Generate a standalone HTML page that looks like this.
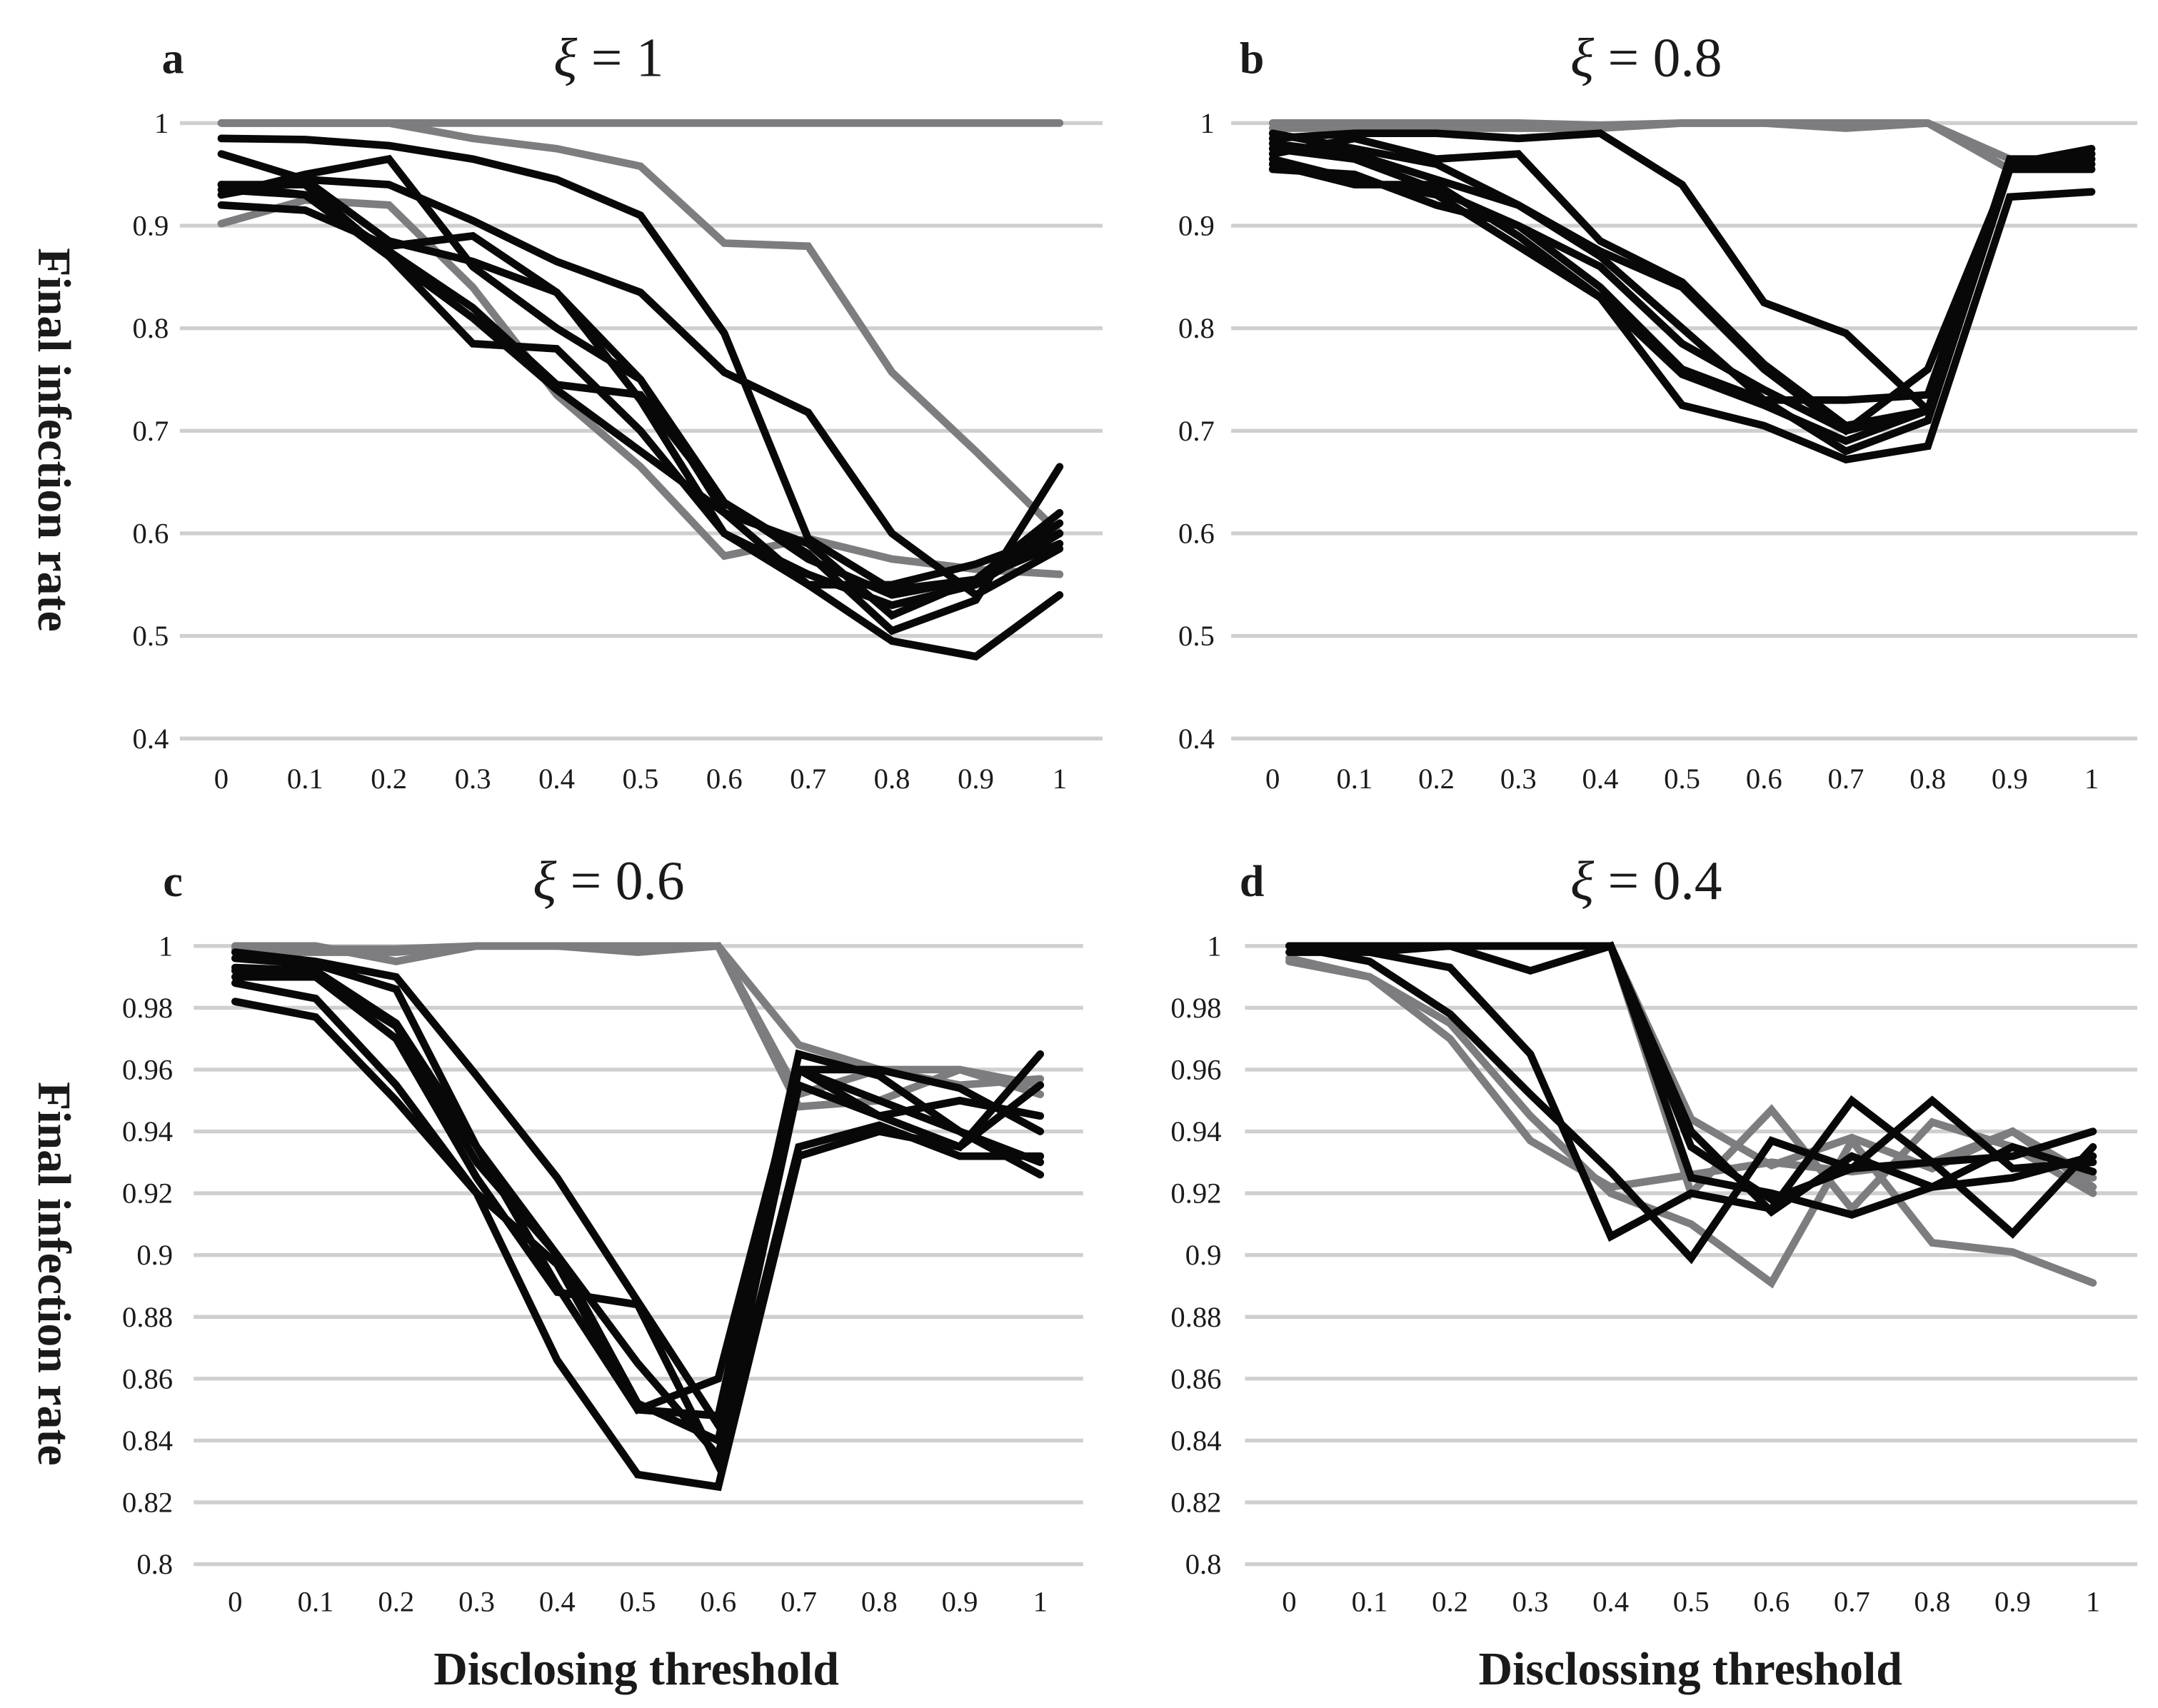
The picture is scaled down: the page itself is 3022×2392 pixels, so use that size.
<!DOCTYPE html>
<html><head><meta charset="utf-8"><style>
html,body{margin:0;padding:0;background:#fff;}
svg{display:block;}
text{font-family:"Liberation Serif",serif;fill:#1a1a1a;}
</style></head><body>
<svg id="fig" width="3022" height="2392" viewBox="0 0 1560 1235" preserveAspectRatio="none" xmlns="http://www.w3.org/2000/svg"></svg>
<script>
const categories = [0,0.1,0.2,0.3,0.4,0.5,0.6,0.7,0.8,0.9,1];
const xTickLabels = ["0","0.1","0.2","0.3","0.4","0.5","0.6","0.7","0.8","0.9","1"];
const yTicksAB = [0.4,0.5,0.6,0.7,0.8,0.9,1];
const yTickLabelsAB = ["0.4","0.5","0.6","0.7","0.8","0.9","1"];
const yTicksCD = [0.8,0.82,0.84,0.86,0.88,0.9,0.92,0.94,0.96,0.98,1];
const yTickLabelsCD = ["0.8","0.82","0.84","0.86","0.88","0.9","0.92","0.94","0.96","0.98","1"];

const seriesA = [
 [0.985,0.984,0.978,0.965,0.945,0.91,0.795,0.595,0.545,0.555,0.59],
 [0.93,0.945,0.94,0.905,0.865,0.835,0.757,0.718,0.6,0.54,0.585],
 [0.97,0.945,0.885,0.865,0.835,0.75,0.63,0.575,0.54,0.555,0.61],
 [0.93,0.95,0.965,0.86,0.8,0.75,0.62,0.59,0.52,0.555,0.62],
 [0.92,0.915,0.88,0.89,0.835,0.73,0.6,0.56,0.53,0.55,0.6],
 [0.94,0.93,0.87,0.785,0.78,0.7,0.6,0.55,0.495,0.48,0.54],
 [0.935,0.93,0.875,0.82,0.745,0.735,0.63,0.58,0.505,0.535,0.665],
 [0.94,0.94,0.87,0.81,0.74,0.68,0.62,0.55,0.55,0.57,0.6]
];
const graySeriesA = [
 [1,1,1,1,1,1,1,1,1,1,1],
 [1,1,1,0.985,0.975,0.958,0.883,0.88,0.757,0.68,0.6],
 [0.902,0.925,0.92,0.84,0.735,0.665,0.578,0.595,0.575,0.565,0.56]
];
const seriesB = [
 [0.985,0.99,0.99,0.985,0.99,0.94,0.825,0.795,0.72,0.96,0.97],
 [0.97,0.985,0.965,0.97,0.885,0.845,0.765,0.705,0.72,0.96,0.965],
 [0.96,0.94,0.94,0.89,0.83,0.725,0.705,0.672,0.685,0.928,0.933],
 [0.975,0.965,0.935,0.9,0.86,0.785,0.74,0.7,0.72,0.96,0.96],
 [0.98,0.97,0.945,0.92,0.87,0.8,0.73,0.73,0.735,0.96,0.975],
 [0.955,0.95,0.92,0.9,0.84,0.76,0.73,0.68,0.71,0.955,0.97],
 [0.965,0.945,0.93,0.88,0.83,0.755,0.725,0.69,0.72,0.965,0.965],
 [0.99,0.975,0.96,0.92,0.875,0.84,0.76,0.7,0.76,0.955,0.955]
];
const graySeriesB = [
 [1,1,1,1,0.998,1,1,0.995,1,0.955,0.965],
 [0.995,0.995,0.995,0.995,0.995,1,1,1,1,0.965,0.96]
];
const seriesC = [
 [0.998,0.995,0.99,0.958,0.925,0.885,0.845,0.96,0.95,0.94,0.93],
 [0.996,0.994,0.986,0.935,0.89,0.85,0.848,0.965,0.958,0.94,0.926],
 [0.993,0.992,0.975,0.935,0.9,0.865,0.835,0.955,0.945,0.935,0.965],
 [0.99,0.99,0.97,0.925,0.888,0.884,0.832,0.935,0.942,0.932,0.932],
 [0.988,0.983,0.955,0.92,0.866,0.829,0.825,0.932,0.94,0.935,0.955],
 [0.982,0.977,0.95,0.92,0.897,0.85,0.86,0.96,0.945,0.95,0.945],
 [0.992,0.99,0.974,0.93,0.9,0.852,0.84,0.96,0.96,0.954,0.94]
];
const graySeriesC = [
 [1,1,0.995,1,1,0.998,1,0.968,0.96,0.96,0.955],
 [0.999,0.999,0.999,1,1,1,1,0.948,0.95,0.96,0.952],
 [0.998,0.998,0.998,1,1,1,1,0.952,0.96,0.955,0.957]
];
const seriesD = [
 [1,1,1,0.992,1,0.935,0.918,0.928,0.93,0.932,0.94],
 [1,0.995,0.978,0.952,0.927,0.899,0.937,0.928,0.95,0.928,0.93],
 [1,0.998,0.993,0.965,0.906,0.92,0.915,0.95,0.93,0.907,0.935],
 [1,1,1,1,1,0.94,0.914,0.932,0.922,0.925,0.932],
 [0.998,0.998,1,1,1,0.925,0.92,0.913,0.922,0.935,0.927]
];
const graySeriesD = [
 [0.995,0.99,0.97,0.937,0.922,0.926,0.93,0.927,0.93,0.94,0.925],
 [0.996,0.99,0.975,0.945,0.92,0.91,0.891,0.937,0.904,0.901,0.891],
 [1,1,1,1,1,0.92,0.947,0.915,0.943,0.935,0.92],
 [1,1,1,1,1,0.944,0.929,0.938,0.928,0.94,0.922]
];

const NS = "http://www.w3.org/2000/svg";
const svg = document.getElementById('fig');
function mk(tag, attrs, parent){ const e=document.createElementNS(NS,tag); for(const k in attrs) e.setAttribute(k,attrs[k]); (parent||svg).appendChild(e); return e; }

const panels = [
 {id:'a', title:'= 1', gx0:130, gx1:797, x0:160, x1:766, yTop:89, yBot:534, vmin:0.4, vmax:1, ticks:yTicksAB, tl:yTickLabelsAB, labX:122, lx:125, tx:440, ty:42, xl:563, gray:graySeriesA, black:seriesA, yTitle:318},
 {id:'b', title:'= 0.8', gx0:890, gx1:1545, x0:920, x1:1512, yTop:89, yBot:534, vmin:0.4, vmax:1, ticks:yTicksAB, tl:yTickLabelsAB, labX:878, lx:905, tx:1190, ty:42, xl:563, gray:graySeriesB, black:seriesB},
 {id:'c', title:'= 0.6', gx0:140, gx1:783, x0:170, x1:752, yTop:684, yBot:1131, vmin:0.8, vmax:1, ticks:yTicksCD, tl:yTickLabelsCD, labX:125, lx:125, tx:440, ty:637, xl:1158, gray:graySeriesC, black:seriesC, yTitle:921, xTitle:'Disclosing threshold', xTitleX:460},
 {id:'d', title:'= 0.4', gx0:900, gx1:1545, x0:932, x1:1513, yTop:684, yBot:1131, vmin:0.8, vmax:1, ticks:yTicksCD, tl:yTickLabelsCD, labX:883, lx:905, tx:1190, ty:637, xl:1158, gray:graySeriesD, black:seriesD, xTitle:'Disclossing threshold', xTitleX:1222}
];

panels.forEach(p=>{
  const g = mk('g',{});
  
  
  const xs = i => p.x0 + (p.x1-p.x0)*categories[i];
  const ys = v => p.yBot - (v-p.vmin)/(p.vmax-p.vmin)*(p.yBot-p.yTop);
  p.ticks.forEach((t,i)=>{
    const l = mk('line',{x1:p.gx0,x2:p.gx1,y1:ys(t),y2:ys(t),stroke:'#cfcfcf','stroke-width':2.8},g);
    
    
    const tx = mk('text',{x:p.labX,y:ys(t)+7,'text-anchor':'end','font-size':21},g);
    tx.textContent = p.tl[i];
    
    
  });
  categories.forEach((c,i)=>{
    const tx = mk('text',{x:xs(i),y:p.xl+7,'text-anchor':'middle','font-size':21},g);
    tx.textContent = xTickLabels[i];
    
    
  });
  const drawSeries = (arr,color,name)=>{
    arr.forEach(s=>{
      const pts = s.map((v,i)=>xs(i).toFixed(1)+','+ys(v).toFixed(1)).join(' ');
      const pl = mk('polyline',{points:pts,fill:'none',stroke:color,'stroke-width':5.5,'stroke-linejoin':'miter','stroke-linecap':'round'},g);
      
      
    });
  };
  drawSeries(p.gray,'#7d7d80','series-line-gray');
  drawSeries(p.black,'#080808','series-line-black');
  const lt = mk('text',{x:p.lx,y:p.ty+11,'font-size':32,'font-weight':'bold','text-anchor':'middle'},g);
  lt.textContent = p.id;
  
  
  const tt = mk('text',{x:p.tx,y:p.ty+13,'font-size':40,'text-anchor':'middle'},g);
  const ts = mk('tspan',{'font-style':'italic'},tt); ts.textContent='ξ ';
  const ts2 = mk('tspan',{},tt); ts2.textContent=p.title;
  
  
  if(p.yTitle){
    const yt = mk('text',{x:0,y:0,'font-size':34,'font-weight':'bold','text-anchor':'middle',transform:'translate(28,'+p.yTitle+') rotate(90)'},g);
    yt.textContent='Final infection rate';
    
    
  }
  if(p.xTitle){
    const xt = mk('text',{x:p.xTitleX,y:1218,'font-size':34,'font-weight':'bold','text-anchor':'middle'},g);
    xt.textContent=p.xTitle;
    
    
  }
});
</script>
</body></html>
